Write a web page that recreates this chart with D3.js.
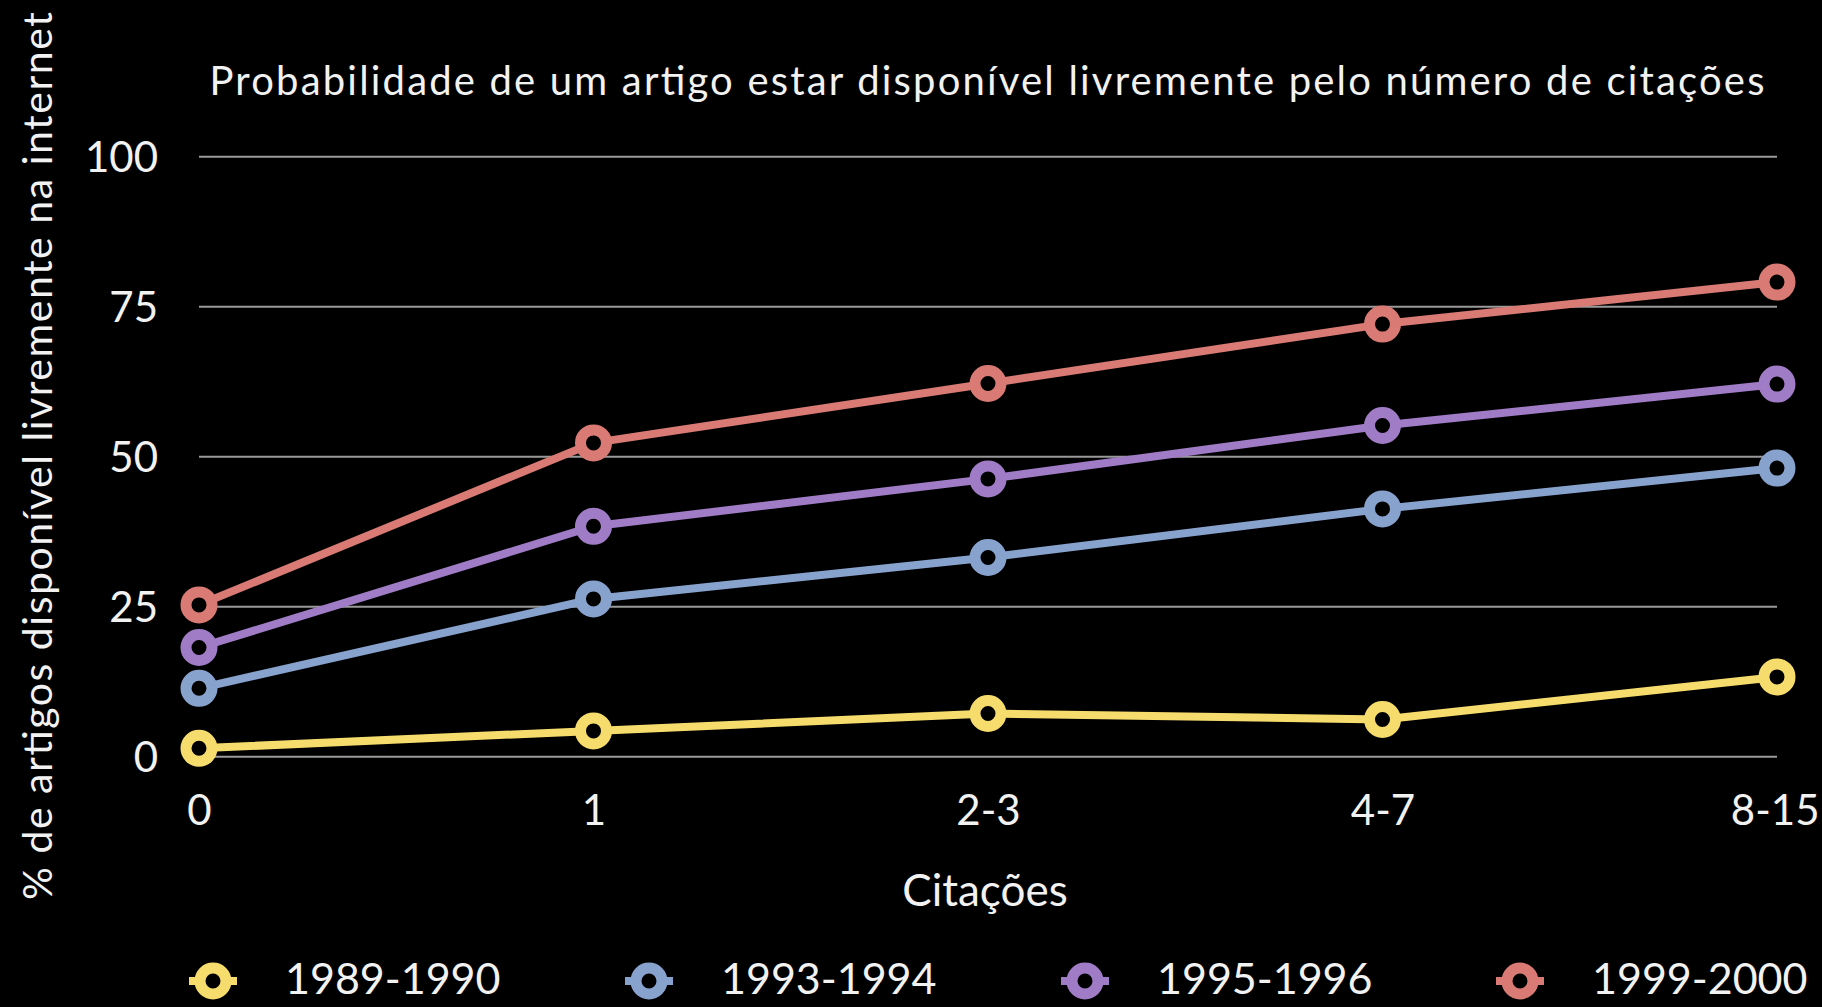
<!DOCTYPE html>
<html><head><meta charset="utf-8">
<script src="https://cdn.jsdelivr.net/npm/d3@7"></script>
<style>
html,body{margin:0;padding:0;background:#000;}
svg{display:block;}
text{font-family:Lato,"Open Sans",sans-serif;fill:#f2f2f2;}
</style></head>
<body>
<svg id="chart" width="1822" height="1007"></svg>
<script>
const categories = ["0","1","2-3","4-7","8-15"];
const seriesNames = ["1989-1990","1993-1994","1995-1996","1999-2000"];
const seriesColors = ["#f6dc6c","#88a2ce","#a07cc6","#d97a74"];
const v1989 = [1.4, 4.3, 7.2, 6.2, 13.3];
const v1993 = [11.4, 26.3, 33.2, 41.3, 48.1];
const v1995 = [18.2, 38.4, 46.3, 55.2, 62.1];
const v1999 = [25.3, 52.3, 62.2, 72.1, 79.1];
const yTicks = [0, 25, 50, 75, 100];
const titleText = "Probabilidade de um artigo estar disponível livremente pelo número de citações";
const xTitle = "Citações";
const yTitle = "% de artigos disponível livremente na internet";

const series = [v1989, v1993, v1995, v1999];
const svg = d3.select("#chart");
const L = 199, R = 1777, T = 156.7, B = 756.7;

const x = d3.scalePoint().domain(categories).range([L, R]);
const y = d3.scaleLinear().domain([0, 100]).range([B, T]);

// gridlines
svg.append("g").selectAll("line").data(yTicks).join("line")
  .attr("x1", L).attr("x2", R)
  .attr("y1", d => y(d)).attr("y2", d => y(d))
  .attr("stroke", "#9a9a9a").attr("stroke-width", 2);

// y axis labels
const yAxis = d3.axisLeft(y).tickValues(yTicks).tickSize(0).tickPadding(0);
const gy = svg.append("g").attr("transform", `translate(158,0)`).call(yAxis);
gy.select(".domain").remove();
gy.selectAll("text").attr("font-size", 42).attr("fill", "#f2f2f2")
  .style("font-family", "Lato, sans-serif").attr("dy", "0.36em");

// x axis labels
const xAxis = d3.axisBottom(x).tickSize(0).tickPadding(0);
const gx = svg.append("g").attr("transform", `translate(0,${B})`).call(xAxis);
gx.select(".domain").remove();
gx.selectAll("text").attr("font-size", 42).attr("fill", "#f2f2f2")
  .style("font-family", "Lato, sans-serif").attr("dy", 0).attr("y", 68)
  .attr("text-anchor", (d, i) => i === categories.length - 1 ? "end" : "middle")
  .attr("dx", (d, i) => i === categories.length - 1 ? 42 : 0);

// lines
const line = d3.line().x((d, i) => x(categories[i])).y(d => y(d));
series.forEach((s, k) => {
  svg.append("path").datum(s).attr("d", line)
    .attr("fill", "none").attr("stroke", seriesColors[k]).attr("stroke-width", 8)
    .attr("stroke-linejoin", "round");
});
series.forEach((s, k) => {
  svg.append("g").selectAll("circle").data(s).join("circle")
    .attr("cx", (d, i) => x(categories[i])).attr("cy", d => y(d))
    .attr("r", 13).attr("fill", "#000")
    .attr("stroke", seriesColors[k]).attr("stroke-width", 11);
});

// title
svg.append("text").attr("x", 987).attr("y", 95).attr("text-anchor", "middle")
  .attr("font-size", 40).attr("textLength", 1555).attr("lengthAdjust", "spacing")
  .text(titleText);

// x title
svg.append("text").attr("x", 985).attr("y", 906).attr("text-anchor", "middle")
  .attr("font-size", 44).text(xTitle);

// y title
svg.append("text").attr("transform", "translate(52,456) rotate(-90)")
  .attr("text-anchor", "middle").attr("font-size", 41)
  .attr("textLength", 888).attr("lengthAdjust", "spacing").text(yTitle);

// legend
const legX = [213, 649, 1085, 1520];
const lg = svg.append("g").selectAll("g").data(seriesNames).join("g")
  .attr("transform", (d, i) => `translate(${legX[i]},981)`);
lg.append("line").attr("x1", -24).attr("x2", 24).attr("y1", 0).attr("y2", 0)
  .attr("stroke", (d, i) => seriesColors[i]).attr("stroke-width", 8);
lg.append("circle").attr("r", 13).attr("fill", "#000")
  .attr("stroke", (d, i) => seriesColors[i]).attr("stroke-width", 11);
lg.append("text").attr("x", 72).attr("y", -2).attr("dy", "0.36em")
  .attr("font-size", 43).text(d => d);
</script>
</body></html>
